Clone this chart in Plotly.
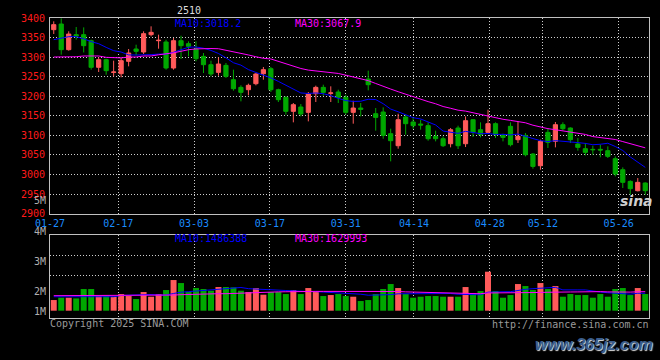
import plotly.graph_objects as go
import pandas as pd

# ---------------- data ----------------
date_ticks = ["01-27", "02-17", "03-03", "03-17", "03-31", "04-14", "04-28", "05-12", "05-26"]
date_tick_idx = [0, 9, 19, 29, 39, 48, 58, 65, 75]

open_ = [3370.2, 3384.6, 3319.1, 3357.4, 3357.4, 3342.0, 3274.0, 3293.5, 3261.0, 3257.7,
         3289.3, 3320.8, 3313.1, 3357.4, 3342.0, 3338.7, 3272.2, 3342.0, 3334.4, 3320.8,
         3302.0, 3280.7, 3261.1, 3279.0, 3242.4, 3222.8, 3216.8, 3232.2, 3257.7, 3270.5,
         3216.8, 3197.3, 3161.5, 3172.6, 3158.9, 3206.6, 3222.8, 3207.5, 3210.9, 3197.3,
         3158.9, 3170.0, 3244.1, 3155.5, 3159.8, 3104.4, 3073.7, 3147.0, 3134.2, 3129.1,
         3124.9, 3097.6, 3091.6, 3078.8, 3118.9, 3078.8, 3140.2, 3114.6, 3107.8, 3130.0,
         3100.1, 3123.2, 3089.1, 3100.1, 3052.4, 3022.6, 3107.8, 3084.8, 3127.4, 3118.9,
         3078.0, 3066.1, 3064.4, 3064.4, 3061.0, 3040.5, 3012.4, 2982.6, 2958.8, 2978.4]
high = [3391.5, 3399.0, 3366.0, 3377.0, 3376.0, 3344.6, 3299.5, 3296.0, 3291.0, 3299.5,
        3320.8, 3331.8, 3366.0, 3378.7, 3357.4, 3344.6, 3348.9, 3354.8, 3340.4, 3340.4,
        3310.5, 3291.0, 3299.5, 3285.0, 3268.0, 3228.0, 3232.2, 3259.4, 3274.8, 3274.8,
        3219.4, 3199.8, 3182.8, 3180.2, 3210.9, 3227.1, 3229.6, 3225.4, 3216.8, 3204.0,
        3188.7, 3182.8, 3265.4, 3170.0, 3171.7, 3117.2, 3155.5, 3153.0, 3146.1, 3140.2,
        3133.4, 3112.1, 3097.6, 3118.9, 3124.9, 3148.7, 3141.9, 3133.4, 3165.7, 3133.4,
        3104.4, 3133.4, 3135.9, 3106.1, 3055.0, 3089.1, 3118.9, 3134.2, 3133.4, 3120.6,
        3093.3, 3080.6, 3073.7, 3076.3, 3072.0, 3046.5, 3018.4, 2985.2, 2991.1, 2980.0]
low = [3359.1, 3306.3, 3316.5, 3344.6, 3312.0, 3268.0, 3262.0, 3255.0, 3251.0, 3248.4,
       3276.5, 3304.6, 3308.0, 3353.1, 3321.6, 3268.0, 3268.0, 3295.2, 3302.0, 3289.3,
       3259.4, 3251.0, 3252.6, 3246.7, 3214.3, 3187.0, 3202.4, 3228.0, 3242.4, 3211.0,
       3185.3, 3153.0, 3133.4, 3148.7, 3135.9, 3185.3, 3201.5, 3185.3, 3182.8, 3153.0,
       3130.0, 3148.7, 3215.1, 3112.1, 3091.6, 3033.7, 3066.1, 3101.9, 3117.2, 3114.6,
       3086.5, 3084.8, 3070.3, 3069.5, 3065.2, 3070.3, 3095.9, 3095.0, 3103.6, 3093.3,
       3084.8, 3072.0, 3080.6, 3046.5, 3015.0, 3012.4, 3067.8, 3069.5, 3112.1, 3080.6,
       3061.0, 3049.0, 3050.7, 3044.0, 3042.3, 2995.4, 2965.6, 2948.5, 2957.0, 2948.5]
close = [3383.0, 3319.1, 3359.0, 3354.0, 3329.3, 3274.0, 3293.5, 3265.4, 3262.0, 3291.0,
         3310.5, 3314.8, 3360.0, 3363.4, 3343.0, 3272.2, 3342.0, 3329.3, 3327.6, 3296.0,
         3280.7, 3256.9, 3282.4, 3251.0, 3219.4, 3210.0, 3228.0, 3256.9, 3268.0, 3216.8,
         3191.3, 3161.5, 3178.5, 3154.7, 3205.8, 3222.8, 3210.0, 3208.5, 3197.3, 3158.9,
         3170.0, 3166.6, 3229.6, 3146.1, 3100.1, 3086.5, 3140.2, 3130.0, 3124.9, 3126.5,
         3091.6, 3091.6, 3073.7, 3114.6, 3073.7, 3137.6, 3107.8, 3101.9, 3130.0, 3101.9,
         3095.0, 3076.3, 3097.6, 3050.7, 3020.9, 3084.8, 3082.3, 3127.4, 3117.2, 3089.1,
         3069.5, 3056.7, 3063.5, 3062.7, 3046.5, 3001.3, 2980.1, 2963.9, 2980.1, 2958.8]
volume = [909000, 1108000, 1108000, 1050000, 1847000, 1847000, 1250000, 1250000, 1193000, 1420000,
          1250000, 994000, 1591000, 1193000, 1420000, 1761000, 2614000, 2358000, 1619000, 1932000,
          1847000, 1705000, 2017000, 2017000, 1989000, 1705000, 1591000, 1932000, 1364000, 1591000,
          1591000, 1420000, 1761000, 1420000, 1932000, 1676000, 1250000, 1335000, 1420000, 1250000,
          1193000, 824000, 909000, 1420000, 1847000, 2273000, 1932000, 1420000, 1108000, 1193000,
          1250000, 1250000, 1193000, 1193000, 1193000, 2017000, 1506000, 1676000, 3324000, 1676000,
          1108000, 1335000, 2273000, 2102000, 1761000, 2358000, 1847000, 2102000, 1193000, 1420000,
          1335000, 1335000, 1108000, 1420000, 1193000, 1847000, 1932000, 1335000, 1932000, 1420000]

# moving-average values before a full window exists
ma10_head = [3344.6, 3349.0, 3352.3, 3352.3, 3347.0, 3339.5, 3334.4, 3325.0, 3316.5]
ma30_head = [3300.3, 3300.3, 3300.3, 3301.0, 3303.0, 3303.0, 3303.0, 3299.5, 3298.0, 3298.0,
             3300.3, 3300.3, 3303.0, 3303.0, 3306.0, 3308.0, 3311.0, 3315.0, 3319.0, 3321.0,
             3322.0, 3322.0, 3321.5, 3318.0, 3314.0, 3310.0, 3305.6, 3301.0, 3297.0]
vma10_head = [1190000, 1190000, 1190000, 1190000, 1190000, 1250000, 1250000, 1190000, 1190000]
vma30_head = [1280000, 1280000, 1280000, 1280000, 1280000, 1280000, 1280000, 1280000, 1280000, 1280000,
              1280000, 1280000, 1280000, 1280000, 1280000, 1280000, 1335000, 1364000, 1392000, 1420000,
              1450000, 1450000, 1450000, 1450000, 1480000, 1500000, 1520000, 1540000, 1560000]

title_text = "2510"
price_ma_labels = ["MA10:3018.2", "MA30:3067.9"]
vol_ma_labels = ["MA10:1486388", "MA30:1629993"]
vol_tick_labels = ["5M", "4M", "3M", "2M", "1M"]
price_ticks = [2900, 2950, 3000, 3050, 3100, 3150, 3200, 3250, 3300, 3350, 3400]

# ---------------- derived ----------------
n = len(close)
idx = list(range(n))
ma10 = pd.Series(close).rolling(10).mean().tolist()
ma30 = pd.Series(close).rolling(30).mean().tolist()
ma10[:len(ma10_head)] = ma10_head
ma30[:len(ma30_head)] = ma30_head
vma10 = pd.Series(volume, dtype=float).rolling(10).mean().tolist()
vma30 = pd.Series(volume, dtype=float).rolling(30).mean().tolist()
vma10[:len(vma10_head)] = vma10_head
vma30[:len(vma30_head)] = vma30_head

# ---------------- style / layout ----------------
W, H = 660, 360
L, R, T, B = 50, 11, 18, 42
PW, PH = W - L - R, H - T - B
FONT = "DejaVu Sans Mono"
RED = "#ff5a5a"
GREEN = "#00a800"
BLUE = "#0000ff"
MAG = "#ff00ff"
GRID = "#cfcfcf"
FRAME = "#c0c0c0"
GRAY = "#b0b0b0"


def pyp(ypx):
    return (H - B - ypx) / PH


def pxp(xpx):
    return (xpx - L) / PW


price_bottom_px = 213.7
vol_top_px = 235.0
VOL_ZERO_PX = 310.7
PX_PER_UNIT = 11.73 / 1e6
vol_lo = -(H - B - VOL_ZERO_PX) / PX_PER_UNIT
vol_hi = (VOL_ZERO_PX - vol_top_px) / PX_PER_UNIT
vol_grid = [(VOL_ZERO_PX - y) / PX_PER_UNIT for y in (255, 275)]

grid_x = [-0.5 + i * n / (n - 1) for i in date_tick_idx]

bar_colors = [RED if c > o else GREEN for o, c in zip(open_, close)]

fig = go.Figure()
fig.add_trace(go.Candlestick(
    x=idx, open=open_, high=high, low=low, close=close,
    increasing=dict(line=dict(color=RED, width=1), fillcolor=RED),
    decreasing=dict(line=dict(color=GREEN, width=1), fillcolor=GREEN),
    xaxis="x", yaxis="y", showlegend=False, hoverinfo="skip"))
fig.add_trace(go.Scatter(x=idx, y=ma10, mode="lines", line=dict(color=BLUE, width=1),
                         xaxis="x", yaxis="y", showlegend=False, hoverinfo="skip"))
fig.add_trace(go.Scatter(x=idx, y=ma30, mode="lines", line=dict(color=MAG, width=1),
                         xaxis="x", yaxis="y", showlegend=False, hoverinfo="skip"))
fig.add_trace(go.Bar(x=idx, y=volume, marker=dict(color=bar_colors, line=dict(width=0)),
                     xaxis="x2", yaxis="y2", showlegend=False, hoverinfo="skip"))
fig.add_trace(go.Scatter(x=idx, y=vma10, mode="lines", line=dict(color=BLUE, width=1),
                         xaxis="x2", yaxis="y2", showlegend=False, hoverinfo="skip"))
fig.add_trace(go.Scatter(x=idx, y=vma30, mode="lines", line=dict(color=MAG, width=1),
                         xaxis="x2", yaxis="y2", showlegend=False, hoverinfo="skip"))

xcommon = dict(range=[-0.5, n - 0.5], tickmode="array", tickvals=grid_x,
               showgrid=True, gridcolor=GRID, griddash="1px,2px", gridwidth=1,
               showline=True, linecolor=FRAME, linewidth=1, mirror=True,
               ticks="", zeroline=False, rangeslider=dict(visible=False), fixedrange=True)
ycommon = dict(showgrid=True, gridcolor=GRID, griddash="1px,2px", gridwidth=1,
               showline=True, linecolor=FRAME, linewidth=1, mirror=True,
               ticks="", zeroline=False, fixedrange=True)

fig.update_layout(
    width=W, height=H,
    margin=dict(l=L, r=R, t=T, b=B, pad=0),
    paper_bgcolor="#000000", plot_bgcolor="#000000",
    font=dict(family=FONT, size=10, color=GRAY),
    boxgap=0.2, bargap=0.2, hovermode=False, showlegend=False,
    xaxis=dict(xcommon, anchor="y", domain=[0, 1], ticktext=date_ticks,
               showticklabels=True, tickfont=dict(family=FONT, size=10, color="#1a8cff")),
    yaxis=dict(ycommon, anchor="x", domain=[pyp(price_bottom_px), 1],
               range=[price_ticks[0], price_ticks[-1]], tickmode="array",
               tickvals=price_ticks, ticktext=[str(v) for v in price_ticks],
               tickfont=dict(family=FONT, size=10, color="#ff1a1a"), ticklabelstandoff=2),
    xaxis2=dict(xcommon, anchor="y2", domain=[0, 1], matches="x", showticklabels=False),
    yaxis2=dict(ycommon, anchor="x2", domain=[0, pyp(vol_top_px)], range=[vol_lo, vol_hi],
                tickmode="array", tickvals=vol_grid, showticklabels=False),
)

ann = []


def text(t, xpx, ypx, color, xanchor="left", size=10, family=FONT, **kw):
    ann.append(dict(text=t, x=pxp(xpx), y=pyp(ypx), xref="paper", yref="paper",
                    xanchor=xanchor, yanchor="middle", showarrow=False,
                    font=dict(family=family, size=size, color=color, **kw), borderpad=0))


text(title_text, 189, 10, "#dcdcdc", xanchor="center")
text(price_ma_labels[0], 174, 23.5, BLUE)
text(price_ma_labels[1], 294, 23.5, MAG)
text(vol_ma_labels[0], 174, 238.5, BLUE)
text(vol_ma_labels[1], 294, 238.5, MAG)
for lab, ypx in zip(vol_tick_labels, [200, 231, 261, 291, 311]):
    text(lab, 47, ypx, GRAY, xanchor="right")
text("Copyright 2025 SINA.COM", 49, 323, "#9a9a9a")
text("http://finance.sina.com.cn", 650, 324, "#9a9a9a", xanchor="right")
text("sina", 636, 201, "#cfcfcf", xanchor="center", size=14, family="DejaVu Sans",
     weight="bold", style="italic")
text("www.365jz.com", 594, 344, "#3a5d8c", xanchor="center", size=16,
     family="Liberation Sans", weight="bold", style="italic",
     shadow="1px 1px 1px #e0e0e0")
fig.update_layout(annotations=ann)

fig.write_html("out.html", config={"displayModeBar": False},
               post_script="document.body.style.margin='0';document.body.style.padding='0';")
